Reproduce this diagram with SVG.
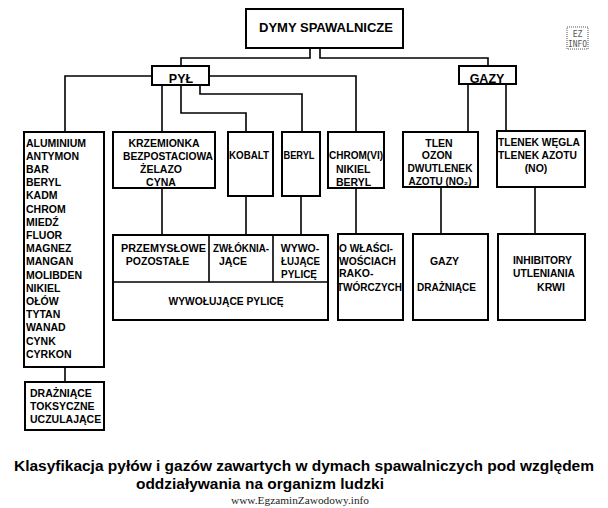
<svg xmlns="http://www.w3.org/2000/svg" width="608" height="508" viewBox="0 0 608 508">
<style>
.box{fill:#fff;stroke:#000;stroke-width:2}
.ln{fill:none;stroke:#000;stroke-width:1.6}
text{font-family:"Liberation Sans",Arial,sans-serif;font-weight:bold;fill:#000}
.t{font-size:10.5px}
.c{text-anchor:middle}
.cap{font-size:14.5px}
.wm{font-family:"Liberation Serif","Times New Roman",serif;font-weight:normal;font-size:10.5px;fill:#222}
.logo{font-family:"DejaVu Sans Mono",monospace;font-weight:normal;font-size:8px;fill:#555}
</style>
<rect width="608" height="508" fill="#fff"/>
<g id="connectors">
<path class="ln" d="M310,48 V58 H181 V66"/>
<path class="ln" d="M320,48 V58 H488 V66"/>
<path class="ln" d="M152,76 H65 V132"/>
<path class="ln" d="M162,85 V132"/>
<path class="ln" d="M181,85 V113 H246 V132"/>
<path class="ln" d="M200,85 V94 H302 V132"/>
<path class="ln" d="M209,76 H356 V132"/>
<path class="ln" d="M468,84 V132"/>
<path class="ln" d="M506,84 V131"/>
<path class="ln" d="M65,367 V382"/>
<path class="ln" d="M162,188 V235"/>
<path class="ln" d="M246,196 V235"/>
<path class="ln" d="M301,196 V235"/>
<path class="ln" d="M356,188 V234"/>
<path class="ln" d="M441,187 V234"/>
<path class="ln" d="M535,187 V234"/>
</g>
<g id="dymy">
<rect class="box" x="246" y="9" width="157" height="39"/>
<text x="326" y="32" class="c" font-size="13" textLength="134" lengthAdjust="spacingAndGlyphs">DYMY SPAWALNICZE</text>
</g>
<g id="pyl">
<rect class="box" x="152" y="66" width="57" height="19"/>
<text x="181" y="82.5" class="c" font-size="12.5">PYŁ</text>
</g>
<g id="gazy">
<rect class="box" x="459" y="66" width="57" height="18"/>
<text x="487" y="83" class="c" font-size="12.5">GAZY</text>
</g>
<g id="logo">
<rect x="567" y="27" width="21" height="22" fill="none" stroke="#555" stroke-width="1" stroke-dasharray="1,1"/>
<text class="logo" x="577.5" y="36.5" text-anchor="middle">EZ</text>
<text class="logo" x="577.5" y="46.5" text-anchor="middle" textLength="19" lengthAdjust="spacingAndGlyphs">INFO</text>
</g>
<g id="metale">
<rect class="box" x="24" y="132" width="80" height="235"/>
<text class="t" x="26" y="146.7">ALUMINIUM
<tspan x="26" dy="13.19">ANTYMON</tspan>
<tspan x="26" dy="13.19">BAR</tspan>
<tspan x="26" dy="13.19">BERYL</tspan>
<tspan x="26" dy="13.19">KADM</tspan>
<tspan x="26" dy="13.19">CHROM</tspan>
<tspan x="26" dy="13.19">MIEDŹ</tspan>
<tspan x="26" dy="13.19">FLUOR</tspan>
<tspan x="26" dy="13.19">MAGNEZ</tspan>
<tspan x="26" dy="13.19">MANGAN</tspan>
<tspan x="26" dy="13.19">MOLIBDEN</tspan>
<tspan x="26" dy="13.19">NIKIEL</tspan>
<tspan x="26" dy="13.19">OŁÓW</tspan>
<tspan x="26" dy="13.19">TYTAN</tspan>
<tspan x="26" dy="13.19">WANAD</tspan>
<tspan x="26" dy="13.19">CYNK</tspan>
<tspan x="26" dy="13.19">CYRKON</tspan></text>
</g>
<g id="drazniace-tox">
<rect class="box" x="25" y="382" width="79" height="48"/>
<text class="t" x="30" y="396.5">DRAŻNIĄCE</text>
<text class="t" x="30" y="409.5">TOKSYCZNE</text>
<text class="t" x="30" y="422.5">UCZULAJĄCE</text>
</g>
<g id="krzemionka">
<rect class="box" x="113" y="132" width="102" height="56"/>
<text class="t c" x="164" y="146.5">KRZEMIONKA</text>
<text class="t c" x="168" y="159.5" textLength="90" lengthAdjust="spacingAndGlyphs">BEZPOSTACIOWA</text>
<text class="t c" x="161" y="172.5">ŻELAZO</text>
<text class="t c" x="161" y="185.5">CYNA</text>
</g>
<g id="kobalt">
<rect class="box" x="228" y="132" width="45" height="64"/>
<text class="t c" x="249" y="158.7" textLength="40" lengthAdjust="spacingAndGlyphs">KOBALT</text>
</g>
<g id="beryl">
<rect class="box" x="282" y="132" width="38" height="64"/>
<text class="t c" x="299" y="158.7" textLength="31" lengthAdjust="spacingAndGlyphs">BERYL</text>
</g>
<g id="chrom">
<rect class="box" x="328" y="132" width="56" height="56"/>
<text class="t" x="329" y="158.7" textLength="54" lengthAdjust="spacingAndGlyphs">CHROM(VI)</text>
<text class="t" x="336" y="172.7">NIKIEL</text>
<text class="t" x="336" y="185.7">BERYL</text>
</g>
<g id="tlen">
<rect class="box" x="403" y="132" width="75" height="55"/>
<text class="t c" x="439" y="146.7">TLEN</text>
<text class="t c" x="437" y="158.7">OZON</text>
<text class="t c" x="440" y="171.7" textLength="65" lengthAdjust="spacingAndGlyphs">DWUTLENEK</text>
<text class="t c" x="440" y="184.7" textLength="63" lengthAdjust="spacingAndGlyphs">AZOTU (NO₂)</text>
</g>
<g id="tlenek">
<rect class="box" x="497" y="131" width="88" height="56"/>
<text class="t" x="498" y="145.7" textLength="82" lengthAdjust="spacingAndGlyphs">TLENEK WĘGLA</text>
<text class="t" x="498" y="158.7" textLength="79" lengthAdjust="spacingAndGlyphs">TLENEK AZOTU</text>
<text class="t c" x="536" y="171.7">(NO)</text>
</g>
<g id="pylice">
<rect class="box" x="113" y="235" width="215" height="85"/>
<path class="ln" d="M209,235 V282 M273,235 V282 M113,282 H328"/>
<text class="t c" x="163.5" y="251.7" textLength="85" lengthAdjust="spacingAndGlyphs">PRZEMYSŁOWE</text>
<text class="t c" x="157.5" y="264.7">POZOSTAŁE</text>
<text class="t c" x="241" y="251.7" textLength="56" lengthAdjust="spacingAndGlyphs">ZWŁÓKNIA-</text>
<text class="t c" x="233" y="264.7">JĄCE</text>
<text class="t c" x="300" y="251.7">WYWO-</text>
<text class="t c" x="300.5" y="264.7" textLength="39" lengthAdjust="spacingAndGlyphs">ŁUJĄCE</text>
<text class="t c" x="299" y="277.7" textLength="36" lengthAdjust="spacingAndGlyphs">PYLICĘ</text>
<text class="t c" x="226" y="304.5" textLength="115" lengthAdjust="spacingAndGlyphs">WYWOŁUJĄCE PYLICĘ</text>
</g>
<g id="rakotworcze">
<rect class="box" x="338" y="234" width="65" height="86"/>
<text class="t" x="339" y="251.7" textLength="54" lengthAdjust="spacingAndGlyphs">O WŁAŚCI-</text>
<text class="t" x="339" y="264.7" textLength="57" lengthAdjust="spacingAndGlyphs">WOŚCIACH</text>
<text class="t" x="339" y="277.2">RAKO-</text>
<text class="t" x="337" y="290.7" textLength="65" lengthAdjust="spacingAndGlyphs">TWÓRCZYCH</text>
</g>
<g id="gazy-drazniace">
<rect class="box" x="413" y="234" width="75" height="86"/>
<text class="t c" x="444.5" y="264.7">GAZY</text>
<text class="t c" x="446.5" y="290.7" textLength="59" lengthAdjust="spacingAndGlyphs">DRAŻNIĄCE</text>
</g>
<g id="inhibitory">
<rect class="box" x="498" y="234" width="87" height="86"/>
<text class="t c" x="542.5" y="263.7" textLength="59" lengthAdjust="spacingAndGlyphs">INHIBITORY</text>
<text class="t c" x="544" y="276.7" textLength="62" lengthAdjust="spacingAndGlyphs">UTLENIANIA</text>
<text class="t c" x="551" y="290.7">KRWI</text>
</g>
<g id="caption">
<text class="cap" x="14" y="471" textLength="580" lengthAdjust="spacingAndGlyphs">Klasyfikacja pyłów i gazów zawartych w dymach spawalniczych pod względem</text>
<text class="cap" x="136" y="489" textLength="248" lengthAdjust="spacingAndGlyphs">oddziaływania na organizm ludzki</text>
<text class="wm" x="231" y="504" textLength="138" lengthAdjust="spacingAndGlyphs">www.EgzaminZawodowy.info</text>
</g>
</svg>
